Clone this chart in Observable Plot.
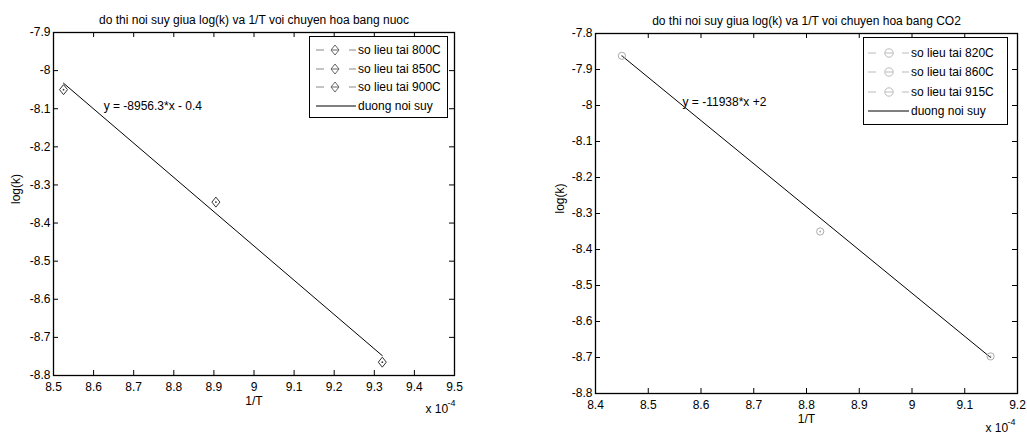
<!DOCTYPE html>
<html><head><meta charset="utf-8">
<script src="https://cdn.jsdelivr.net/npm/d3@7"></script>
<script src="https://cdn.jsdelivr.net/npm/@observablehq/plot@0.6"></script>
<style>
body{margin:0;background:#fff;}
#wrap{position:relative;width:1027px;height:438px;overflow:hidden;font-family:"Liberation Sans",Arial,Helvetica,sans-serif;}
.chart{position:absolute;top:0;}
.legend{position:absolute;box-sizing:border-box;border:1px solid #000;background:#fff;font-size:12px;color:#000;}
.row{position:absolute;left:0;height:18px;display:flex;align-items:center;white-space:nowrap;}
.row svg{display:block;}
</style></head>
<body><div id="wrap"></div>
<script>
// ---------- data: left panel (water) ----------
const waterTitle = "do thi noi suy giua log(k) va 1/T voi chuyen hoa bang nuoc";
const waterLabels = ["so lieu tai 800C", "so lieu tai 850C", "so lieu tai 900C"];
const waterX = [9.32, 8.905, 8.525];
const waterY = [-8.765, -8.345, -8.05];
const waterFitX = [8.525, 9.32];
const waterFitY = [-8.033, -8.748];
const waterEquation = "y = -8956.3*x - 0.4";
const waterEqPos = [8.625, -8.092];
const waterXTicks = [8.5, 8.6, 8.7, 8.8, 8.9, 9.0, 9.1, 9.2, 9.3, 9.4, 9.5];
const waterYTicks = [-7.9, -8.0, -8.1, -8.2, -8.3, -8.4, -8.5, -8.6, -8.7, -8.8];

// ---------- data: right panel (CO2) ----------
const co2Title = "do thi noi suy giua log(k) va 1/T voi chuyen hoa bang CO2";
const co2Labels = ["so lieu tai 820C", "so lieu tai 860C", "so lieu tai 915C"];
const co2X = [9.149, 8.826, 8.45];
const co2Y = [-8.697, -8.35, -7.862];
const co2FitX = [8.45, 9.149];
const co2FitY = [-7.862, -8.70];
const co2Equation = "y = -11938*x +2";
const co2EqPos = [8.565, -7.992];
const co2XTicks = [8.4, 8.5, 8.6, 8.7, 8.8, 8.9, 9.0, 9.1, 9.2];
const co2YTicks = [-7.8, -7.9, -8.0, -8.1, -8.2, -8.3, -8.4, -8.5, -8.6, -8.7, -8.8];

const fitLabel = "duong noi suy";
const xLabel = "1/T";
const yLabel = "log(k)";
const expBase = "x 10";
const expPow = "-4";

const FONT = '"Liberation Sans", Arial, Helvetica, sans-serif';
const fmt = d => String(+(+d).toFixed(1));

// MATLAB-like diamond: a bit wider than d3's
const matlabDiamond = {
  draw(ctx, size) {
    const r = Math.sqrt(size / Math.PI);
    const h = r * 1.25, w = r;
    ctx.moveTo(0, -h); ctx.lineTo(w, 0); ctx.lineTo(0, h); ctx.lineTo(-w, 0); ctx.closePath();
  }
};

function panel(cfg) {
  const pts = cfg.xs.map((x, i) => ({x, y: cfg.ys[i]}));
  const fit = cfg.fitX.map((x, i) => ({x, y: cfg.fitY[i]}));
  const W = cfg.width - cfg.ml - cfg.mr;
  const H = cfg.height - cfg.mt - cfg.mb;
  const T = 5;
  const chart = Plot.plot({
    width: cfg.width, height: cfg.height,
    marginLeft: cfg.ml, marginRight: cfg.mr, marginTop: cfg.mt, marginBottom: cfg.mb,
    style: {fontFamily: FONT, fontSize: "12px", color: "#000", background: "transparent", overflow: "visible"},
    x: {domain: [cfg.xTicks[0], cfg.xTicks[cfg.xTicks.length - 1]], axis: null},
    y: {domain: [cfg.yTicks[cfg.yTicks.length - 1], cfg.yTicks[0]], axis: null},
    marks: [
      Plot.axisX(cfg.xTicks, {tickSize: 0, tickPadding: 7, tickFormat: fmt, label: null, fontSize: 12}),
      Plot.axisY(cfg.yTicks, {tickSize: 0, tickPadding: 3, tickFormat: fmt, label: null, fontSize: 12}),
      Plot.tickX(cfg.xTicks, {x: d => d, insetTop: H - T, stroke: "#000"}),
      Plot.tickX(cfg.xTicks, {x: d => d, insetBottom: H - T, stroke: "#000"}),
      Plot.tickY(cfg.yTicks, {y: d => d, insetRight: W - T, stroke: "#000"}),
      Plot.tickY(cfg.yTicks, {y: d => d, insetLeft: W - T, stroke: "#000"}),
      Plot.frame({stroke: "#000", strokeWidth: 1.3}),
      Plot.line(fit, {x: "x", y: "y", stroke: "#000", strokeWidth: 1}),
      Plot.dot(pts, {x: "x", y: "y", symbol: cfg.symbol, r: cfg.r, stroke: cfg.markColor, strokeWidth: 1, fill: "none"}),
      Plot.dot(pts, {x: "x", y: "y", r: 0.9, fill: cfg.markColor, stroke: null}),
      Plot.text([cfg.equation], {x: () => cfg.eqPos[0], y: () => cfg.eqPos[1], text: d => d, textAnchor: "start", fontSize: 12}),
      Plot.text([cfg.title], {frameAnchor: "top", dy: -17, text: d => d, fontSize: 12}),
      Plot.text([yLabel], {frameAnchor: "left", dx: cfg.yLabelDx, rotate: -90, text: d => d, fontSize: 12}),
      Plot.text([xLabel], {frameAnchor: "bottom", dy: cfg.xLabelDy, text: d => d, fontSize: 12}),
      Plot.text([expBase], {frameAnchor: "bottom-right", dx: cfg.expDx, dy: cfg.expDy, textAnchor: "start", text: d => d, fontSize: 12}),
      Plot.text([expPow], {frameAnchor: "bottom-right", dx: cfg.expDx + 22, dy: cfg.expDy - 7, textAnchor: "start", text: d => d, fontSize: 9})
    ]
  });
  chart.classList.add("chart");
  chart.style.left = cfg.left + "px";
  return chart;
}

function legend(cfg) {
  const box = document.createElement("div");
  box.className = "legend";
  Object.assign(box.style, {left: cfg.left + "px", top: cfg.top + "px", width: cfg.width + "px", height: cfg.height + "px"});
  const entries = cfg.labels.map(l => ({label: l, marker: true})).concat([{label: fitLabel, marker: false}]);
  entries.forEach((e, i) => {
    const row = document.createElement("div");
    row.className = "row";
    row.style.top = (cfg.firstRow + i * cfg.rowGap - 9) + "px";
    const svg = d3.create("svg").attr("width", cfg.iconW).attr("height", 18);
    if (e.marker) {
      svg.append("line").attr("x1", cfg.pad).attr("x2", cfg.pad + 8).attr("y1", 9).attr("y2", 9).attr("stroke", cfg.dashColor);
      svg.append("line").attr("x1", cfg.iconW - 8).attr("x2", cfg.iconW - 1).attr("y1", 9).attr("y2", 9).attr("stroke", cfg.dashColor);
      const cx = cfg.markerX;
      if (cfg.symbol === "diamond") {
        svg.append("path").attr("d", `M${cx},${9 - 5}L${cx + 4},9L${cx},${9 + 5}L${cx - 4},9Z`).attr("fill", "none").attr("stroke", cfg.legendMark);
      } else {
        svg.append("circle").attr("cx", cx).attr("cy", 9).attr("r", 4.2).attr("fill", "none").attr("stroke", cfg.legendMark);
      }
      svg.append("line").attr("x1", cx - 4).attr("x2", cx + 4).attr("y1", 9).attr("y2", 9).attr("stroke", cfg.legendMark);
    } else {
      svg.append("line").attr("x1", cfg.pad).attr("x2", cfg.iconW - 1).attr("y1", 9).attr("y2", 9).attr("stroke", "#000");
    }
    row.appendChild(svg.node());
    const span = document.createElement("span");
    span.textContent = e.label;
    span.style.marginLeft = "1px";
    row.appendChild(span);
    box.appendChild(row);
  });
  return box;
}

const wrap = document.getElementById("wrap");
wrap.appendChild(panel({
  left: 0, width: 520, height: 438, ml: 53, mr: 66, mt: 32, mb: 63,
  xTicks: waterXTicks, yTicks: waterYTicks, xs: waterX, ys: waterY,
  fitX: waterFitX, fitY: waterFitY, equation: waterEquation, eqPos: waterEqPos,
  title: waterTitle, symbol: matlabDiamond, r: 4, markColor: "#333",
  yLabelDx: -37, xLabelDy: 29, expDx: -29, expDy: 37
}));
wrap.appendChild(panel({
  left: 520, width: 507, height: 438, ml: 75, mr: 10, mt: 33, mb: 45,
  xTicks: co2XTicks, yTicks: co2YTicks, xs: co2X, ys: co2Y,
  fitX: co2FitX, fitY: co2FitY, equation: co2Equation, eqPos: co2EqPos,
  title: co2Title, symbol: "circle", r: 3.6, markColor: "#aaa",
  yLabelDx: -35, xLabelDy: 29, expDx: -32, expDy: 38
}));
wrap.appendChild(legend({
  left: 309, top: 36, width: 139, height: 82, labels: waterLabels, symbol: "diamond",
  firstRow: 13, rowGap: 18.7, iconW: 47, pad: 6, markerX: 25, dashColor: "#888", legendMark: "#666"
}));
wrap.appendChild(legend({
  left: 863, top: 37, width: 145, height: 88, labels: co2Labels, symbol: "circle",
  firstRow: 15, rowGap: 19.3, iconW: 46, pad: 4, markerX: 25, dashColor: "#bbb", legendMark: "#bbb"
}));
</script>
</body></html>
